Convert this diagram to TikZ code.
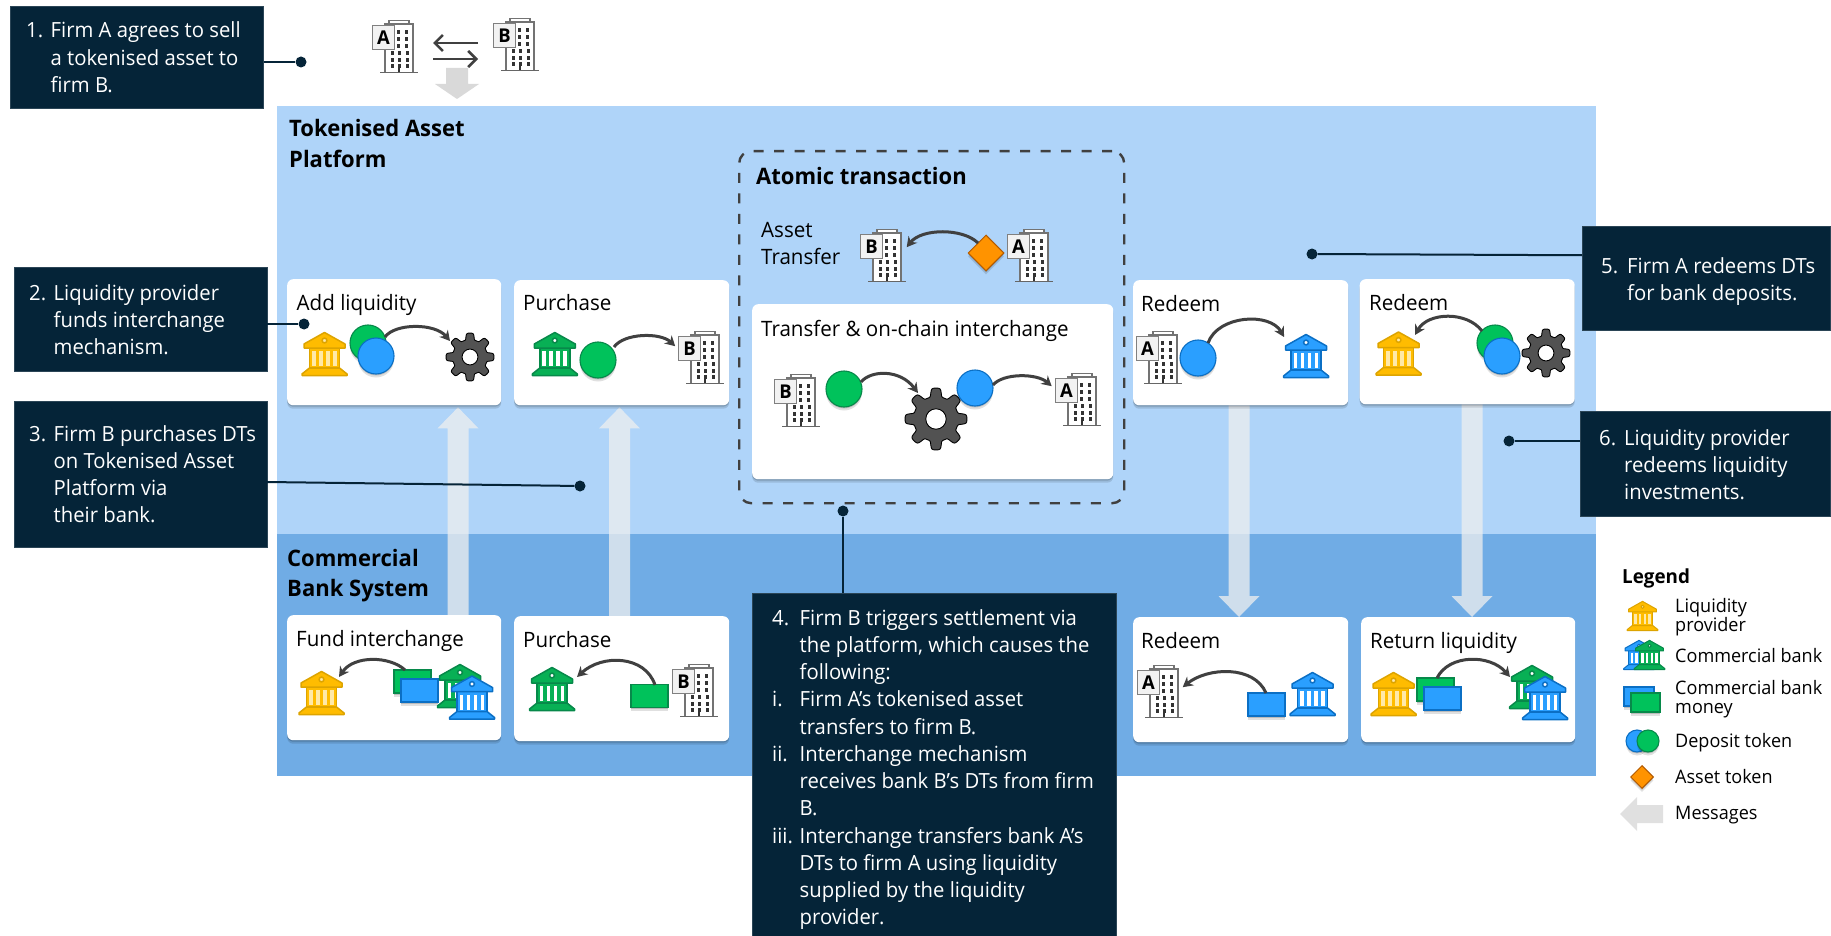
\documentclass[tikz,border=0pt]{standalone}
\usepackage{fontspec}
\setmainfont{Open Sans}[FakeStretch=0.97]
\usetikzlibrary{shadows,calc,arrows.meta,shapes.geometric}
\pgfdeclarelayer{zones}
\pgfdeclarelayer{msgs}
\pgfsetlayers{zones,msgs,main}
\definecolor{navy}{HTML}{052438}
\definecolor{platblue}{HTML}{AFD4F9}
\definecolor{bankblue}{HTML}{70ACE5}
\definecolor{pale}{HTML}{EFEFEF}
\definecolor{ygold}{HTML}{FFBC00}
\definecolor{ygoldl}{HTML}{DDA400}
\definecolor{ygolds}{HTML}{FFE9A8}
\definecolor{tgreen}{HTML}{00C25B}
\definecolor{tgreenl}{HTML}{07894A}
\definecolor{tblue}{HTML}{2A9FFF}
\definecolor{tbluel}{HTML}{0B6FC4}
\definecolor{bankg}{HTML}{08B055}
\definecolor{arrowc}{HTML}{404040}
\newcommand\ls[2][24.5pt]{\begin{tabular}[t]{@{}p{#1}@{}l@{}}#2\end{tabular}}
\newcommand\lp[1]{\begin{tabular}[t]{@{}l@{}}#1\end{tabular}}
\tikzset{
 x=1pt,y=-1pt,
 softshadow/.style={drop shadow={shadow xshift=0pt,shadow yshift=-3.5pt,fill=black,opacity=.12},drop shadow={shadow xshift=0pt,shadow yshift=-1.5pt,fill=black,opacity=.16}},
 plat/.style={anchor=north west,inner sep=0,outer sep=0},
 card/.style={anchor=north west,fill=white,rounded corners=6pt,inner sep=0,minimum width=215pt,minimum height=125pt,softshadow},
 callout/.style={anchor=north west,fill=navy,draw=navy!85!white,line width=.5pt,inner sep=0},
 calltext/.style={anchor=base west,inner sep=0,text=white,font=\fontsize{20.9}{27.27}\selectfont},
 title/.style={anchor=base west,inner sep=0,font=\fontsize{21.2}{27}\selectfont},
 heading/.style={anchor=base west,inner sep=0,font=\fontsize{22.7}{30.5}\selectfont\bfseries},
 legtext/.style={anchor=base west,inner sep=0,font=\fontsize{18.6}{19.5}\selectfont},
 dotnode/.style={circle,fill=navy,inner sep=0,minimum size=11pt},
 lead/.style={draw=navy,line width=2pt},
 flow/.style={draw=arrowc,line width=3pt,-{Stealth[length=10pt,width=11pt]}},
 swap/.style={draw=arrowc,line width=2.6pt,-{Straight Barb[length=8pt,width=16pt]}},
 msgshape/.style={fill=pale,opacity=.75},
 token/.style={circle,inner sep=0,minimum size=36pt,line width=1.1pt,softshadow},
 gtok/.style={token,fill=tgreen,draw=tgreenl},
 btok/.style={token,fill=tblue,draw=tbluel},
 money/.style={rectangle,inner sep=0,minimum width=37pt,minimum height=23pt,line width=1.1pt,softshadow},
 gmoney/.style={money,fill=tgreen,draw=tgreenl},
 bmoney/.style={money,fill=tblue,draw=tbluel},
 asset/.style={diamond,aspect=1,inner sep=0,fill=orange!85!yellow,draw=orange!70!black,line width=1pt,softshadow},
 iconbox/.style={rectangle,inner sep=0},
}
% {start}{tip}{direction: 1 downwards, -1 upwards}
\newcommand\msgarrow[3]{%
 \fill[msgshape] ($(#1)+(-10.5,0)$) -- ($(#2)+(-10.5,{-21*#3})$) -- ($(#2)+(-20.5,{-21*#3})$) -- (#2) -- ($(#2)+(20.5,{-21*#3})$) -- ($(#2)+(10.5,{-21*#3})$) -- ($(#1)+(10.5,0)$) -- cycle;}
% [scale]{name}{x}{y}{fill}{line}{slot}
\newcommand\bankicon[7][1]{%
 \node[iconbox,minimum width={46pt*#1},minimum height={44pt*#1}] (#2) at (#3,#4) {};
 \begin{scope}[shift={(#3,#4)},scale=#1,line width={1.5pt*#1},draw=#6,fill=#5,line join=round]
  \filldraw (-15,-6) rectangle (15,14);
  \foreach \sx in {-10.5,-3.5,3.5,10.5}{\fill[#7] (\sx-1.9,-3) rectangle (\sx+1.9,12);}
  \filldraw (0,-21.5) -- (20.5,-10) -- (20.5,-6) -- (-20.5,-6) -- (-20.5,-10) -- cycle;
  \filldraw[fill=#7] (0,-13.5) circle[radius=2.4];
  \filldraw (-15,14) -- (15,14) -- (22.5,20) -- (22.5,21.5) -- (-22.5,21.5) -- (-22.5,20) -- cycle;
 \end{scope}}
% {name}{left}{top}{letter}
\newcommand\buildicon[4]{%
 \node[iconbox,minimum width=46pt,minimum height=53pt,anchor=north west] (#1) at (#2,#3) {};
 \begin{scope}[shift={(#2,#3)}]
  \draw[line width=1.2pt,draw=black!55,fill=white] (17,4) -- (17,0.6) -- (37,0.6) -- (37,4);
  \draw[line width=1.3pt,draw=black!55,fill=white] (13,52) -- (13,4) -- (41,4) -- (41,52);
  \draw[line width=1.6pt,draw=black!60] (8,52.5) -- (46,52.5);
  \foreach \wy in {12,19,26}{\foreach \wx in {26,34}{\fill[black!80] (\wx-1.5,\wy-2) rectangle (\wx+1.5,\wy+2);}}
  \foreach \wy in {33,40,46}{\foreach \wx in {20,27,35}{\fill[black!80] (\wx-1.5,\wy-2) rectangle (\wx+1.5,\wy+2);}}
  \fill[black!80] (26,46) rectangle (28,52);
  \node[rectangle,anchor=north west,inner sep=0,minimum width=22pt,minimum height=24pt,fill=black!5,draw=black!50,line width=1pt,font=\fontsize{19}{19}\selectfont\bfseries] (#1l) at (0,5) {#4};
 \end{scope}}
% {name}{x}{y}{R}
\newcommand\gearicon[4]{%
 \node[circle,inner sep=0,minimum size={2pt*#4}] (#1) at (#2,#3) {};
 \begin{scope}[shift={(#2,#3)}]
  \filldraw[fill=black!68,draw=black,line width=.9pt,line join=round]
    plot[domain=0:360,samples=193,variable=\t] ({#4*(0.86+0.14*tanh(2.5*cos(8*\t)))*cos(\t)},{#4*(0.86+0.14*tanh(2.5*cos(8*\t)))*sin(\t)}) -- cycle;
  \filldraw[fill=white,draw=black,line width=.9pt] (0,0) circle[radius=#4*0.33];
 \end{scope}}
\begin{document}
\begin{tikzpicture}
\useasboundingbox (0,0) rectangle (1831,936);
\begin{pgfonlayer}{zones}
\fill[white] (0,0) rectangle (1831,936);
\node[plat,fill=platblue,minimum width=1318.5pt,minimum height=428pt] (platform) at (277,106) {};
\node[plat,fill=bankblue,minimum width=1318.5pt,minimum height=242pt] (banksys) at (277,534) {};
\end{pgfonlayer}
% cards
\node[card,minimum width=214pt,minimum height=126pt] (cAdd) at (287,279) {};
\node[card] (cPur) at (514,280) {};
\node[card] (cRed) at (1133,280) {};
\node[card] (cRed2) at (1359.5,279) {};
\node[card,minimum width=214pt] (cFund) at (287,615) {};
\node[card] (cPur2) at (514,616) {};
\node[card] (cRed3) at (1133,617) {};
\node[card,minimum width=214pt] (cRet) at (1361,617) {};
% message arrows
\coordinate (ax1) at (458,0); \coordinate (ax2) at (619.5,0); \coordinate (ax3) at (1239,0); \coordinate (ax4) at (1472,0);
\coordinate (m1s) at (cFund.north -| ax1); \coordinate (m1t) at ($(cAdd.south -| ax1)+(0,2)$);
\coordinate (m2s) at (cPur2.north -| ax2); \coordinate (m2t) at ($(cPur.south -| ax2)+(0,2)$);
\coordinate (m3s) at (cRed.south -| ax3); \coordinate (m3t) at (cRed3.north -| ax3);
\coordinate (m4s) at (cRed2.south -| ax4); \coordinate (m4t) at (cRet.north -| ax4);
\begin{pgfonlayer}{msgs}
\msgarrow{m1s}{m1t}{-1}
\msgarrow{m2s}{m2t}{-1}
\msgarrow{m3s}{m3t}{1}
\msgarrow{m4s}{m4t}{1}
\end{pgfonlayer}
% atomic
\node[anchor=north west,inner sep=0,minimum width=385pt,minimum height=352pt,draw=arrowc,line width=2.4pt,dash pattern=on 10pt off 10.5pt,rounded corners=12pt] (atomic) at (738,150) {};
\node[card,minimum width=361pt,minimum height=175pt] (cIn) at (752,304) {};
% zone titles
\node[heading] (tPlat) at (289,137) {\lp{Tokenised Asset\\Platform}};
\node[heading] (tBank) at (287,566) {\lp{Commercial\\Bank System}};
\node[heading] (tAtom) at (756,185) {Atomic transaction};
% card titles
\node[title] (l1) at (296.5,310) {Add liquidity};
\node[title] (l2) at (523,310) {Purchase};
\node[title] (l3) at (761,237) {\lp{Asset\\Transfer}};
\node[title] (l4) at (761,336) {Transfer \& on-chain interchange};
\node[title] (l5) at (1141,311) {Redeem};
\node[title] (l6) at (1369,310) {Redeem};
\node[title] (l7) at (296,646) {Fund interchange};
\node[title] (l8) at (523,647) {Purchase};
\node[title] (l9) at (1141,648) {Redeem};
\node[title] (l10) at (1370,648) {Return liquidity};
% top firms
\buildicon{bTopA}{372}{20}{A}
\buildicon{bTopB}{493}{18}{B}
\coordinate (sw1a) at (478,43); \coordinate (sw1b) at (433,43);
\coordinate (sw2a) at (433,59); \coordinate (sw2b) at (478,59);
\draw[swap] (sw1a) -- (sw1b);
\draw[swap] (sw2a) -- (sw2b);
\fill[black!15] (446,68) -- (468,68) -- (468,84) -- (479,84) -- (457,99) -- (435,84) -- (446,84) -- cycle;
% Add liquidity
\bankicon{k1}{324.5}{354}{ygold}{ygoldl}{ygolds}
\node[gtok] (t1g) at (368,343) {};
\node[btok] (t1b) at (376,356) {};
\gearicon{g1}{470}{357}{24}
\draw[flow] ($(t1g)+(17,-6)$) .. controls +(10,-14) and +(-15,-18) .. ($(g1)+(-20,-16)$);
% Purchase
\bankicon{k2}{554.8}{354}{bankg}{tgreenl}{white}
\node[gtok] (t2) at (598,360) {};
\buildicon{bP}{678}{331}{B}
\draw[flow] ($(t2)+(16,-13)$) .. controls +(10,-14) and +(-15,-14) .. ($(bP)+(-26,-11.5)$);
% Asset transfer
\buildicon{bAtB}{860}{229}{B}
\buildicon{bAtA}{1007}{229}{A}
\node[asset,minimum size=36pt] (d1) at (986,253) {};
\draw[flow] ($(d1)+(-8,-10)$) .. controls +(-15,-15) and +(15,-19) .. ($(bAtB)+(23.5,-8.5)$);
% Interchange
\buildicon{bInB}{774}{374}{B}
\gearicon{g2}{936}{419}{31}
\node[gtok] (t3) at (844,389) {};
\node[btok] (t4) at (975,388) {};
\buildicon{bInA}{1055}{373}{A}
\draw[flow] ($(t3)+(17,-7)$) .. controls +(10,-12) and +(-18,-24) .. ($(g2)+(-18,-26)$);
\draw[flow] ($(t4)+(18,-3)$) .. controls +(10,-12) and +(-15,-13) .. ($(bInA)+(-26.5,-13.5)$);
% Redeem 1
\buildicon{bR1}{1136}{331}{A}
\node[btok] (t5) at (1198,358) {};
\bankicon{k3}{1306}{356}{tblue}{tbluel}{white}
\draw[flow] ($(t5)+(10,-15)$) .. controls +(10,-28) and +(-14,-25) .. ($(k3)+(-22,-19)$);
% Redeem 2
\bankicon{k4}{1398.5}{353.5}{ygold}{ygoldl}{ygolds}
\node[gtok] (t6g) at (1495,343) {};
\node[btok] (t6b) at (1502,356) {};
\gearicon{g3}{1546}{353}{24}
\draw[flow] ($(t6g)+(-13,-12)$) .. controls +(-15,-20) and +(13,-23) .. ($(k4)+(16.5,-18.5)$);
% Fund
\bankicon{k5}{321.5}{693}{ygold}{ygoldl}{ygolds}
\node[gmoney] (r1g) at (412.5,681.5) {};
\node[bmoney] (r1b) at (419.5,690.5) {};
\bankicon{k5g}{460}{686}{bankg}{tgreenl}{white}
\bankicon{k5b}{472}{697.5}{tblue}{tbluel}{white}
\draw[flow] ($(r1g)+(-7.5,-11.5)$) .. controls +(-15,-14) and +(15,-22) .. ($(k5)+(17.5,-16)$);
% Purchase bottom
\bankicon{k6}{552}{689}{bankg}{tgreenl}{white}
\node[gmoney] (r2) at (649.5,696) {};
\buildicon{bP2}{672}{664}{B}
\draw[flow] ($(r2)+(5.5,-11)$) .. controls +(-10,-30) and +(25,-23) .. ($(k6)+(25,-12)$);
% Redeem bottom
\buildicon{bR3}{1137}{665}{A}
\node[bmoney] (r3) at (1266.5,704.5) {};
\bankicon{k7}{1312.5}{694}{tblue}{tbluel}{white}
\draw[flow] ($(r3)+(-.5,-11.5)$) .. controls +(-12,-28) and +(25,-20) .. ($(bR3)+(22.5,-4.5)$);
% Return
\bankicon{k9}{1393.5}{694}{ygold}{ygoldl}{ygolds}
\node[gmoney] (r4g) at (1435.5,689.5) {};
\node[bmoney] (r4b) at (1442.5,698.5) {};
\bankicon{k8}{1532}{687}{bankg}{tgreenl}{white}
\bankicon{k8b}{1545}{698}{tblue}{tbluel}{white}
\draw[flow] ($(r4g)+(1.5,-11.5)$) .. controls +(12,-24) and +(-20,-23) .. ($(k8)+(-22,-10)$);
% callouts
\node[callout,minimum width=253pt,minimum height=102pt] (cb1) at (10,6) {};
\node[callout,minimum width=252.5pt,minimum height=104pt] (cb2) at (14,267) {};
\node[callout,minimum width=252.5pt,minimum height=145.5pt] (cb3) at (14,401) {};
\node[callout,minimum width=364pt,minimum height=343pt] (cb4) at (752,593) {};
\node[callout,minimum width=248pt,minimum height=104pt] (cb5) at (1582,226) {};
\node[callout,minimum width=250pt,minimum height=105pt] (cb6) at (1580,411) {};
\node[calltext] (x1) at (26,38) {\ls{1. & Firm A agrees to sell\\ & a tokenised asset to\\ & firm B.}};
\node[calltext] (x2) at (29,300) {\ls{2. & Liquidity provider\\ & funds interchange\\ & mechanism.}};
\node[calltext] (x3) at (29,441) {\ls{3. & Firm B purchases DTs\\ & on Tokenised Asset\\ & Platform via\\ & their bank.}};
\node[calltext] (x4) at (772,625) {\ls[27.5pt]{4. & Firm B triggers settlement via\\ & the platform, which causes the\\ & following:\\ i. & Firm A’s tokenised asset\\ & transfers to firm B.\\ ii. & Interchange mechanism\\ & receives bank B’s DTs from firm\\ & B.\\ iii. & Interchange transfers bank A’s\\ & DTs to firm A using liquidity\\ & supplied by the liquidity\\ & provider.}};
\node[calltext] (x5) at (1601,273) {\ls[26pt]{5. & Firm A redeems DTs\\ & for bank deposits.}};
\node[calltext] (x6) at (1599,445) {\ls[25pt]{6. & Liquidity provider\\ & redeems liquidity\\ & investments.}};
% leader lines
\node[dotnode] (d1c) at (301,62) {};
\node[dotnode] (d2c) at (304,324) {};
\node[dotnode] (d3c) at (580,486) {};
\node[dotnode] (d4c) at (843,511) {};
\node[dotnode] (d5c) at (1312,254) {};
\node[dotnode] (d6c) at (1509,441) {};
\draw[lead] (cb1.east |- d1c) -- (d1c);
\draw[lead] (cb2.east |- d2c) -- (d2c);
\draw[lead] ($(cb3.east)+(0,8)$) -- (d3c);
\draw[lead] (cb4.north -| d4c) -- (d4c);
\draw[lead] ($(cb5.west)+(0,-23)$) -- (d5c);
\draw[lead] (cb6.west |- d6c) -- (d6c);
% legend
\node[anchor=base west,inner sep=0,font=\fontsize{19.4}{20}\selectfont\bfseries] (lg) at (1622,583) {Legend};
\bankicon[.68]{lgY}{1642.5}{616}{ygold}{ygoldl}{ygolds}
\bankicon[.68]{lgB}{1639}{655}{tblue}{tbluel}{white}
\bankicon[.68]{lgG}{1649.5}{655}{bankg}{tgreenl}{white}
\node[bmoney,minimum width=30pt,minimum height=19pt] (lgM1) at (1639,696.5) {};
\node[gmoney,minimum width=29pt,minimum height=19pt] (lgM2) at (1645.5,702.5) {};
\node[btok,minimum size=22pt] (lgT1) at (1637,741) {};
\node[gtok,minimum size=22pt] (lgT2) at (1648,741) {};
\node[asset,minimum size=23pt] (lgD) at (1642,777) {};
\fill[black!12] (1620,814) -- (1637,797) -- (1637,805) -- (1663,805) -- (1663,823) -- (1637,823) -- (1637,831) -- cycle;
\node[legtext] (q1) at (1675,612) {\lp{Liquidity\\provider}};
\node[legtext] (q2) at (1675,662) {Commercial bank};
\node[legtext] (q3) at (1675,694) {\lp{Commercial bank\\money}};
\node[legtext] (q4) at (1675,747) {Deposit token};
\node[legtext] (q5) at (1675,783) {Asset token};
\node[legtext] (q6) at (1675,819) {Messages};
\end{tikzpicture}
\end{document}
